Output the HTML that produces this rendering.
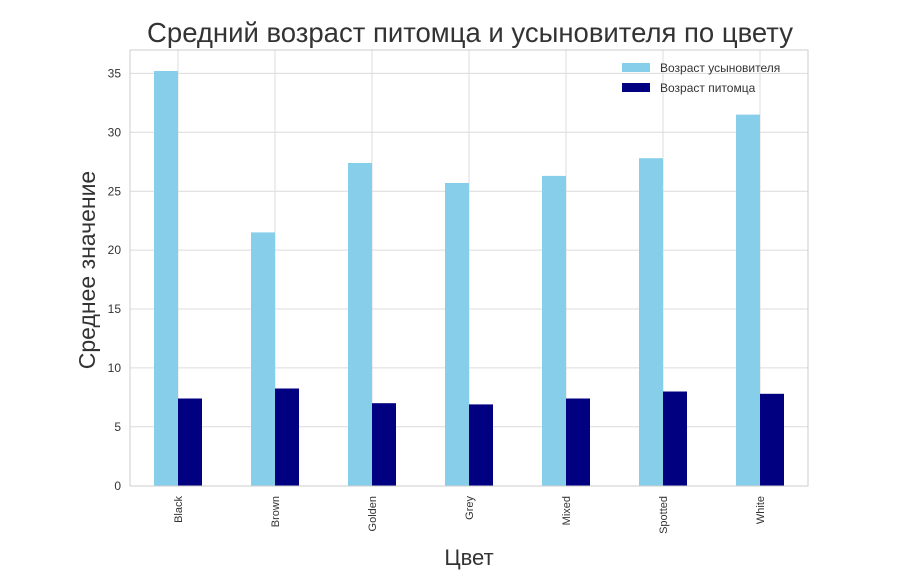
<!DOCTYPE html>
<html><head><meta charset="utf-8"><style>body{margin:0;background:#fff}</style></head><body>
<svg width="900" height="583" xmlns="http://www.w3.org/2000/svg" font-family="Liberation Sans, DejaVu Sans, sans-serif">
<rect width="900" height="583" fill="#fff"/>
<g stroke="#dcdcdc" stroke-width="1">
<line x1="130" y1="426.8" x2="808" y2="426.8"/>
<line x1="130" y1="367.9" x2="808" y2="367.9"/>
<line x1="130" y1="309" x2="808" y2="309"/>
<line x1="130" y1="250.1" x2="808" y2="250.1"/>
<line x1="130" y1="191.2" x2="808" y2="191.2"/>
<line x1="130" y1="132.3" x2="808" y2="132.3"/>
<line x1="130" y1="73.4" x2="808" y2="73.4"/>
<line x1="178" y1="50" x2="178" y2="486"/>
<line x1="275" y1="50" x2="275" y2="486"/>
<line x1="372" y1="50" x2="372" y2="486"/>
<line x1="469" y1="50" x2="469" y2="486"/>
<line x1="566" y1="50" x2="566" y2="486"/>
<line x1="663" y1="50" x2="663" y2="486"/>
<line x1="760" y1="50" x2="760" y2="486"/>
</g>
<g fill="#87ceeb">
<rect x="154" y="71.0" width="24" height="414.7"/>
<rect x="251" y="232.4" width="24" height="253.3"/>
<rect x="348" y="163.0" width="24" height="322.7"/>
<rect x="445" y="183.0" width="24" height="302.7"/>
<rect x="542" y="175.9" width="24" height="309.8"/>
<rect x="639" y="158.2" width="24" height="327.5"/>
<rect x="736" y="114.6" width="24" height="371.1"/>
</g>
<g fill="#000080">
<rect x="178" y="398.5" width="24" height="87.2"/>
<rect x="275" y="388.5" width="24" height="97.2"/>
<rect x="372" y="403.2" width="24" height="82.5"/>
<rect x="469" y="404.4" width="24" height="81.3"/>
<rect x="566" y="398.5" width="24" height="87.2"/>
<rect x="663" y="391.5" width="24" height="94.2"/>
<rect x="760" y="393.8" width="24" height="91.9"/>
</g>
<rect x="130" y="50" width="678" height="436" fill="none" stroke="#ccc" stroke-width="1"/>
<g font-size="12" fill="#333" text-anchor="end">
<text x="121" y="490">0</text>
<text x="121" y="431">5</text>
<text x="121" y="372">10</text>
<text x="121" y="313">15</text>
<text x="121" y="254">20</text>
<text x="121" y="195.5">25</text>
<text x="121" y="136.5">30</text>
<text x="121" y="77.5">35</text>
</g>
<g font-size="11" fill="#333" text-anchor="end">
<text transform="translate(182,496) rotate(-90)">Black</text>
<text transform="translate(279,496) rotate(-90)">Brown</text>
<text transform="translate(376,496) rotate(-90)">Golden</text>
<text transform="translate(473,496) rotate(-90)">Grey</text>
<text transform="translate(570,496) rotate(-90)">Mixed</text>
<text transform="translate(667,496) rotate(-90)">Spotted</text>
<text transform="translate(764,496) rotate(-90)">White</text>
</g>
<text x="470" y="42" font-size="27.5" fill="#333" text-anchor="middle">Средний возраст питомца и усыновителя по цвету</text>
<text x="469" y="565" font-size="22" fill="#333" text-anchor="middle">Цвет</text>
<text transform="translate(95,270) rotate(-90)" font-size="23" fill="#333" text-anchor="middle">Среднее значение</text>
<rect x="622" y="63" width="28" height="9" fill="#87ceeb"/>
<rect x="622" y="83" width="28" height="9" fill="#000080"/>
<g font-size="12" fill="#333">
<text x="660" y="72">Возраст усыновителя</text>
<text x="660" y="92">Возраст питомца</text>
</g>
</svg>
</body></html>
